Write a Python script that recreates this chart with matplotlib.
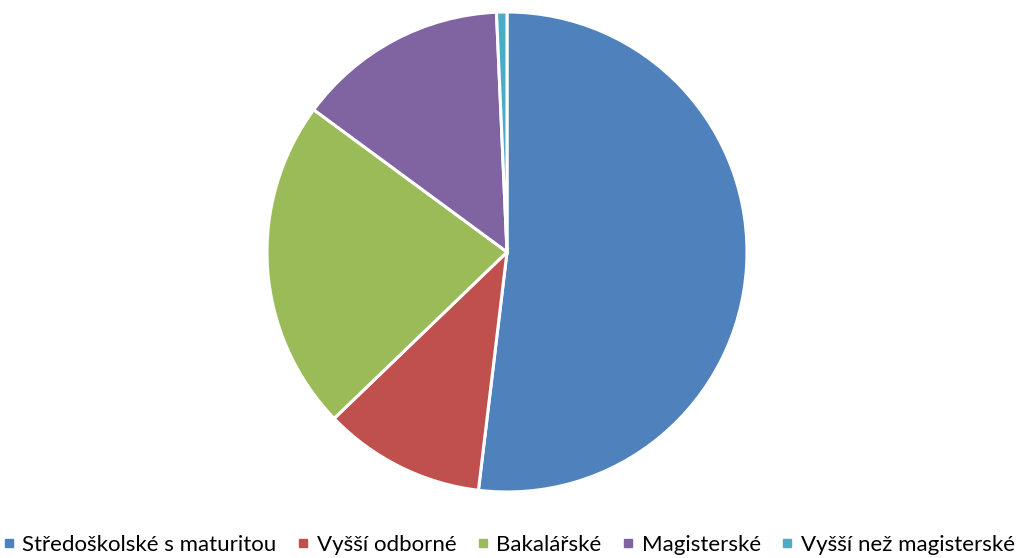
import matplotlib.pyplot as plt
from matplotlib.lines import Line2D

labels = ["Středoškolské s maturitou", "Vyšší odborné", "Bakalářské",
          "Magisterské", "Vyšší než magisterské"]
values = [51.9, 10.9, 22.3, 14.2, 0.7]
colors = ["#4F81BD", "#C0504D", "#9BBB59", "#8064A2", "#4BACC6"]

plt.rcParams["font.family"] = ["Lato", "DejaVu Sans"]

W, H = 1017, 558
fig = plt.figure(figsize=(W / 100, H / 100), dpi=100)
cx, cy, r = 507, 252, 240
ax = fig.add_axes([(cx - r) / W, (H - cy - r) / H, 2 * r / W, 2 * r / H])
ax.pie(values, colors=colors, startangle=90, counterclock=False, radius=1,
       wedgeprops=dict(edgecolor="white", linewidth=2.2))
ax.set_xlim(-1, 1)
ax.set_ylim(-1, 1)
ax.set_aspect("equal")
ax.axis("off")

handles = [Line2D([], [], marker="s", linestyle="none", markersize=6,
                  markerfacecolor=c, markeredgecolor=c) for c in colors]
fig.legend(handles, labels, loc="center", bbox_to_anchor=(0.5, 1 - 545 / H),
           ncol=5, frameon=False, fontsize=16, handletextpad=0.3,
           columnspacing=0.9, handlelength=0.6)

fig.savefig("out.png", dpi=100)
